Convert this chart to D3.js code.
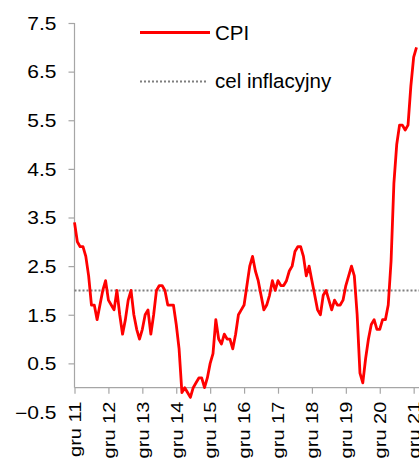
<!DOCTYPE html>
<html>
<head>
<meta charset="utf-8">
<script src="https://cdn.jsdelivr.net/npm/d3@7"></script>
<style>
    body { margin: 0; background: #fff; }
    #chart-area { width: 419px; height: 459px; }
    text { font-family: "Liberation Sans", Arial, sans-serif; fill: #000; }
</style>
</head>
<body>
<div id="chart-area"></div>
<script>

// CPI, r/r %, monthly from lis 2011 to gru 2021
let cpi2011 = [3.4, 3.0]
let cpi2012 = [2.9, 2.9, 2.7, 2.3, 1.7, 1.7, 1.4, 1.7, 2.0, 2.2, 1.8, 1.7]
let cpi2013 = [1.6, 2.0, 1.5, 1.1, 1.4, 1.8, 2.0, 1.5, 1.2, 1.0, 1.2, 1.5]
let cpi2014 = [1.6, 1.1, 1.5, 2.0, 2.1, 2.1, 2.0, 1.7, 1.7, 1.7, 1.3, 0.8]
let cpi2015 = [-0.1, 0.0, -0.1, -0.2, 0.0, 0.1, 0.2, 0.2, 0.0, 0.2, 0.5, 0.7]
let cpi2016 = [1.4, 1.0, 0.9, 1.1, 1.0, 1.0, 0.8, 1.1, 1.5, 1.6, 1.7, 2.1]
let cpi2017 = [2.5, 2.7, 2.4, 2.2, 1.9, 1.6, 1.7, 1.9, 2.2, 2.0, 2.2, 2.1]
let cpi2018 = [2.1, 2.2, 2.4, 2.5, 2.8, 2.9, 2.9, 2.7, 2.3, 2.5, 2.2, 1.9]
let cpi2019 = [1.6, 1.5, 1.9, 2.0, 1.8, 1.6, 1.8, 1.7, 1.7, 1.8, 2.1, 2.3]
let cpi2020 = [2.5, 2.3, 1.5, 0.3, 0.1, 0.6, 1.0, 1.3, 1.4, 1.2, 1.2, 1.4]
let cpi2021 = [1.4, 1.7, 2.6, 4.2, 5.0, 5.4, 5.4, 5.3, 5.4, 6.2, 6.8, 7.0]

let target = 2.0

let xTickIndex = [0, 12, 24, 36, 48, 60, 72, 84, 96, 108, 120]
let xTickLabels = ['gru 11', 'gru 12', 'gru 13', 'gru 14', 'gru 15', 'gru 16', 'gru 17', 'gru 18', 'gru 19', 'gru 20', 'gru 21']
let yTicks = [-0.5, 0.5, 1.5, 2.5, 3.5, 4.5, 5.5, 6.5, 7.5]

let legendLabels = ['CPI', 'cel inflacyjny']


class CpiChart {

    constructor(parentElement, values) {
        this.parentElement = parentElement;
        this.values = values

        this.initVis()
    }

    initVis() {
        let vis = this;

        vis.width = 419;
        vis.height = 459;
        vis.axisColor = '#a6a6a6';

        vis.svg = d3.select("#" + vis.parentElement).append("svg")
            .attr("width", vis.width)
            .attr("height", vis.height);

        // scales
        vis.x = d3.scaleLinear()
            .domain([0, vis.values.length - 1])
            .range([74.5, 416.5]);

        vis.y = d3.scaleLinear()
            .domain([-0.5, 7.5])
            .range([412, 23]);

        // y axis (ticks + labels, own domain line that stops at 0)
        vis.yAxisGroup = vis.svg.append('g')
            .attr('class', 'axis y-axis')
            .attr('transform', 'translate(74.5, 0)')
            .call(d3.axisLeft(vis.y)
                .tickValues(yTicks)
                .tickFormat(d3.format('.1f'))
                .tickSize(6));

        vis.yAxisGroup.select('.domain').remove();
        vis.yAxisGroup.selectAll('.tick line')
            .attr('stroke', vis.axisColor)
            .attr('stroke-width', 1.2)
            .filter(d => d < 0).remove();
        // labels are drawn a bit wider than the font, as in the source chart
        vis.yAxisGroup.selectAll('.tick text')
            .style('font-size', '17.5px')
            .attr('x', -18 / 1.2)
            .attr('dy', '0.36em')
            .attr('transform', 'scale(1.2,1)');

        vis.svg.append('line')
            .attr('x1', 74.5).attr('x2', 74.5)
            .attr('y1', vis.y(7.5)).attr('y2', vis.y(0))
            .attr('stroke', vis.axisColor)
            .attr('stroke-width', 1.2);

        // x axis crossing at 0
        vis.xAxisGroup = vis.svg.append('g')
            .attr('class', 'axis x-axis')
            .attr('transform', `translate(0, ${vis.y(0)})`)
            .call(d3.axisBottom(vis.x)
                .tickValues(xTickIndex)
                .tickFormat((d, i) => xTickLabels[i])
                .tickSize(6)
                .tickSizeOuter(0));

        vis.xAxisGroup.select('.domain')
            .attr('d', `M74.5,0H${vis.width}`)
            .attr('stroke', vis.axisColor)
            .attr('stroke-width', 1.2);
        vis.xAxisGroup.selectAll('.tick line')
            .attr('stroke', vis.axisColor)
            .attr('stroke-width', 1.2);
        vis.xAxisGroup.selectAll('.tick text')
            .style('font-size', '16px')
            .attr('text-anchor', 'end')
            .attr('transform', 'rotate(-90) scale(1.25,1)')
            .attr('x', -14 / 1.25)
            .attr('y', 0)
            .attr('dy', '0.36em');

        // target line
        vis.svg.append('line')
            .attr('x1', 74.5).attr('x2', vis.width)
            .attr('y1', vis.y(target)).attr('y2', vis.y(target))
            .attr('stroke', '#7f7f7f')
            .attr('stroke-width', 2)
            .attr('stroke-dasharray', '2,2');

        // cpi line
        vis.line = d3.line()
            .x((d, i) => vis.x(i))
            .y(d => vis.y(d))
            .curve(d3.curveLinear);

        vis.svg.append('path')
            .datum(vis.values)
            .attr('fill', 'none')
            .attr('stroke', '#ff0000')
            .attr('stroke-width', 2.8)
            .attr('stroke-linejoin', 'round')
            .attr('d', vis.line);

        // legend
        vis.legend = vis.svg.append('g').attr('class', 'legend');

        vis.legend.append('line')
            .attr('x1', 140).attr('x2', 210)
            .attr('y1', 32.5).attr('y2', 32.5)
            .attr('stroke', '#ff0000')
            .attr('stroke-width', 2.8);

        vis.legend.append('line')
            .attr('x1', 140).attr('x2', 208)
            .attr('y1', 81.5).attr('y2', 81.5)
            .attr('stroke', '#7f7f7f')
            .attr('stroke-width', 2)
            .attr('stroke-dasharray', '2,2');

        vis.legend.selectAll('text.lbl')
            .data(legendLabels)
            .enter().append('text')
            .attr('class', 'lbl')
            .attr('x', 215)
            .attr('y', (d, i) => i === 0 ? 33 : 81)
            .attr('dy', '0.36em')
            .style('font-size', '20.5px')
            .text(d => d);
    }
}

let values = [].concat(cpi2011, cpi2012, cpi2013, cpi2014, cpi2015, cpi2016,
    cpi2017, cpi2018, cpi2019, cpi2020, cpi2021)

new CpiChart('chart-area', values)

</script>
</body>
</html>
